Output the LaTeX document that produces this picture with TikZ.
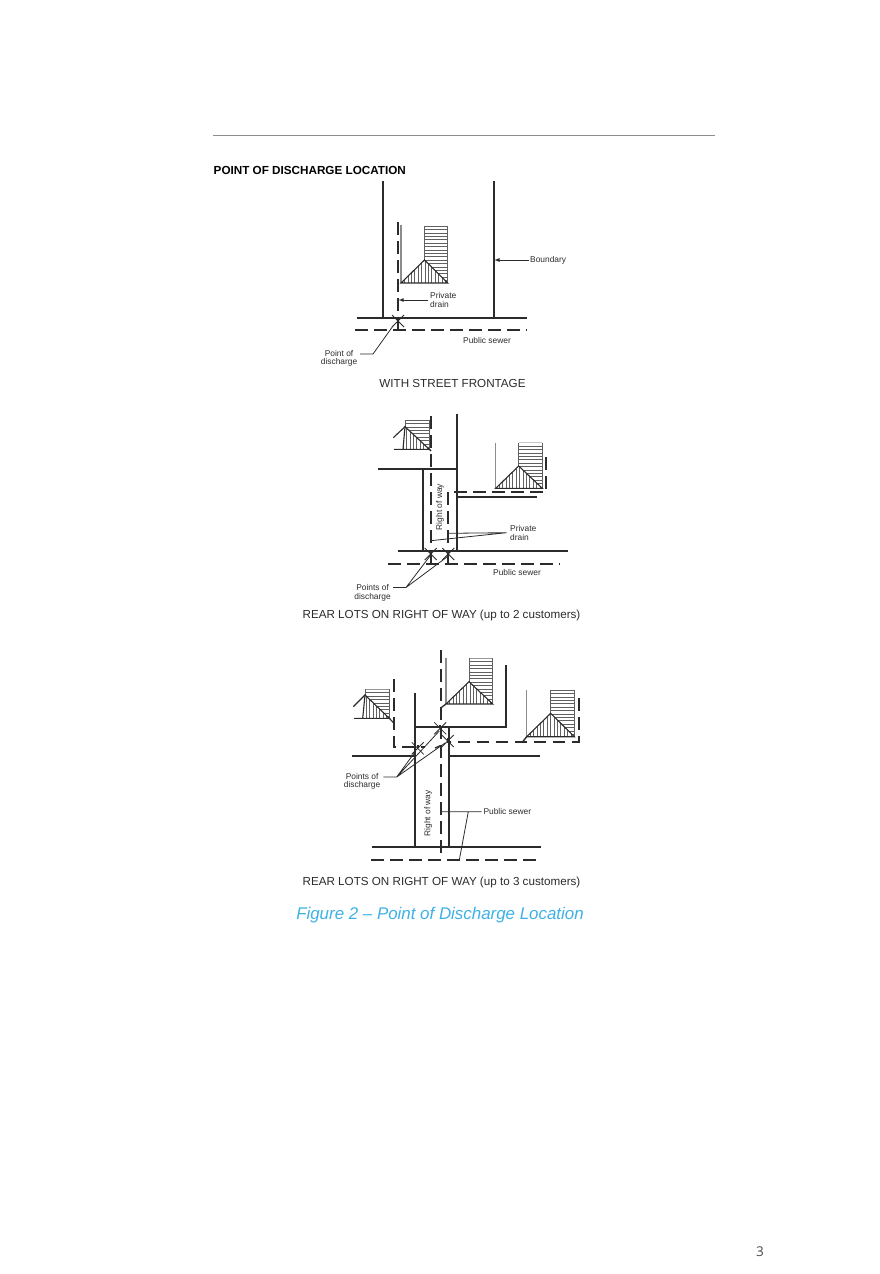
\documentclass[tikz,border=0pt]{standalone}
\usepackage{fontspec}
\setmainfont{Liberation Sans}
\newfontfamily\pagefont{Open Sans}
\usetikzlibrary{positioning,arrows}
\definecolor{inkgrey}{HTML}{2B2B2B}
\definecolor{rulegrey}{HTML}{8C8C8C}
\definecolor{capblue}{HTML}{3DB1E6}
\tikzset{
  wall/.style={draw=inkgrey, line width=1.9pt},
  drain/.style={draw=inkgrey, line width=1.9pt, dash pattern=on 12.5pt off 6.5pt},
  leader/.style={draw=inkgrey, line width=.8pt},
  thin hatch/.style={draw=inkgrey!75, line width=.6pt},
  small/.style={font=\fontsize{8.4}{8.6}\selectfont, text=inkgrey, inner sep=0pt, align=left},
  caption/.style={font=\fontsize{11.65}{13}\selectfont, text=inkgrey, inner sep=0pt},
}
% #1 stair left, #2 stair right, #3 top, #4 apex y, #5 base, #6 eave left
\newcommand{\hatchhouse}[6]{
  \pgfmathsetmacro{\ysec}{#3+3.4}
  \pgfmathsetmacro{\xsec}{#6+3.4}
  \begin{scope}
    \clip (#1,#3) -- (#2,#3) -- (#2,#5) -- (#1,#4) -- cycle;
    \foreach \yy in {#3,\ysec,...,#5} \draw[thin hatch] (#1,\yy) -- (#2,\yy);
  \end{scope}
  \draw[thin hatch, line width=1pt] (#1,#3) -- (#1,#4) (#2,#3) -- (#2,#5);
  \begin{scope}
    \clip (#1,#4) -- (#2,#5) -- (#6,#5) -- cycle;
    \foreach \xx in {#6,\xsec,...,#2} \draw[thin hatch] (\xx,#4) -- (\xx,#5);
  \end{scope}
  \draw[leader, line width=1.1pt] (#6,#5) -- (#1,#4) -- (#2,#5) -- cycle;
}
% point of discharge on the street line
\newcommand{\dischargept}[3]{
  \draw[leader] (#1-6,#2-6) -- (#1+6,#2+6) (#1+6,#2-6) -- (#1-6,#2+6);
  \draw[wall] (#1,#2-3) -- (#1,#3);
}
\begin{document}
\begin{tikzpicture}[x=1pt,y=-1pt]
\useasboundingbox (0,0) rectangle (879,1274);

\draw[rulegrey, line width=1.2pt] (213,135.5) -- (715,135.5);
\node[anchor=west, inner sep=0pt, font=\fontsize{11.7}{13}\selectfont\bfseries, text=black] (title) at (213.5,170.5) {POINT OF DISCHARGE LOCATION};

% street frontage
\draw[wall] (382.7,181) -- (382.7,318) (493.7,181) -- (493.7,318);
\draw[wall] (356.7,318) -- (526.7,318);
\draw[drain] (355,330) -- (527,330);
\draw[drain] (398,222) -- (398,312);
\draw[rulegrey, line width=1.4pt] (401,225) -- (401,283);
\hatchhouse{424.5}{447.7}{226}{260}{283}{401}
\dischargept{398}{321}{330}
\node[small, anchor=west] (bnd) at (530,260) {Boundary};
\draw[leader,-latex] (bnd.west) ++(-1,0) -- (494.3,260);
\node[small, anchor=west] (pvt) at (430,300) {Private\\drain};
\draw[leader,-latex] (pvt.west) ++(-2,0) -- (398.5,300);
\node[small, anchor=west] (sew) at (463,340) {Public sewer};
\node[small, anchor=east, align=center] (pod) at (357.5,358.5) {Point of\\discharge};
\draw[leader] (360,354) -- (373,354) -- (393,326);
\node[caption] (cap1) at (452.5,383) {WITH STREET FRONTAGE};

% two customers
\draw[wall] (456.7,414) -- (456.7,551) (377.7,469) -- (456.7,469) (423.3,469) -- (423.3,551);
\draw[wall] (456.7,496.7) -- (536.7,496.7);
\draw[wall] (397.7,551) -- (568,551);
\draw[drain] (388,563.7) -- (560,563.7);
\draw[drain] (430.7,416) -- (430.7,548);
\draw[drain] (546,457) -- (546,491.7) -- (448.3,491.7) -- (448.3,548);
\draw[rulegrey, line width=1.4pt] (495.7,442.7) -- (495.7,488.3);
\hatchhouse{405}{429.3}{420}{426.7}{449.3}{403}
\draw[leader, line width=1.1pt] (405,426.7) -- (393.3,437.7) (394,449.3) -- (403,449.3) (429.3,449.3) -- (431,451);
\hatchhouse{518.7}{542.3}{442.7}{466}{488.3}{495.7}
\dischargept{430.7}{554}{563.7}
\dischargept{448.3}{554}{563.7}
\node[small, rotate=90] (row1) at (440,507) {Right of way};
\node[small, anchor=west] (pvt2) at (510,533.2) {Private\\drain};
\draw[leader] (506.7,532.7) -- (430.7,540.7) (506.7,532.7) -- (448.3,533.3);
\node[small, anchor=west] (sew2) at (493,572) {Public sewer};
\node[small, anchor=east, align=center] (pod2) at (391,593) {Points of\\discharge};
\draw[leader] (393,587.5) -- (406,587.5) -- (430,556) (406,587.5) -- (448.3,556);
\node[caption] (cap2) at (441.5,615) {REAR LOTS ON RIGHT OF WAY (up to 2 customers)};

% three customers
\draw[wall] (415,692.7) -- (415,846.7) (449,727.3) -- (449,846.7);
\draw[wall] (415,727.3) -- (505.7,727.3) -- (505.7,665);
\draw[wall] (351.7,756) -- (415,756) (449,756) -- (540,756);
\draw[wall] (371.7,846.7) -- (540.7,846.7);
\draw[drain] (371,860) -- (536.7,860);
\draw[drain] (440.7,650) -- (440.7,855);
\draw[drain] (578.7,698) -- (578.7,741.7) -- (446.7,741.7);
\draw[drain] (394,679.3) -- (394,747.3) -- (425,747.3);
\draw[wall, line width=1.3pt] (435,748) -- (440.7,745.5);
\draw[rulegrey, line width=1.4pt] (446,658) -- (446,704) (526.7,690) -- (526.7,736.7);
\hatchhouse{365}{389.3}{689.3}{695}{718.3}{362.7}
\draw[leader, line width=1.1pt] (365,695) -- (353.3,706.7) (354,718.3) -- (362.7,718.3) (389.3,718.3) -- (394,723.3);
\hatchhouse{469}{492.7}{658.3}{681.7}{704}{446}
\draw[wall, line width=1.3pt] (446,704) -- (440.7,708);
\hatchhouse{550.7}{574.3}{690}{713.3}{736.7}{526.7}
\draw[wall, line width=1.3pt] (526.7,736.7) -- (522.7,741.7);
\dischargept{417.7}{748.3}{748.3}
\dischargept{440.2}{728.3}{728.3}
\dischargept{447.7}{741}{741}
\node[small, rotate=90] (row2) at (428.3,813.3) {Right of way};
\node[small, anchor=west] (sew3) at (483.3,811.7) {Public sewer};
\draw[leader] (481.7,811.7) -- (440.7,811.7) (468.3,811.7) -- (459.3,860);
\node[small, anchor=east, align=center] (pod3) at (380.5,781.5) {Points of\\discharge};
\draw[leader] (383.3,777) -- (396.7,777) -- (415,752) (396.7,777) -- (439.3,731) (396.7,777) -- (445,743);
\node[caption] (cap3) at (441.5,882.5) {REAR LOTS ON RIGHT OF WAY (up to 3 customers)};

\node[inner sep=0pt, text=capblue, font=\fontsize{16.9}{18}\selectfont\itshape] (figcap) at (440,915) {Figure 2 – Point of Discharge Location};
\node[inner sep=0pt, text=black!70, font=\fontsize{13.5}{15}\selectfont\pagefont] (pagenum) at (760,1252) {3};
\end{tikzpicture}
\end{document}
